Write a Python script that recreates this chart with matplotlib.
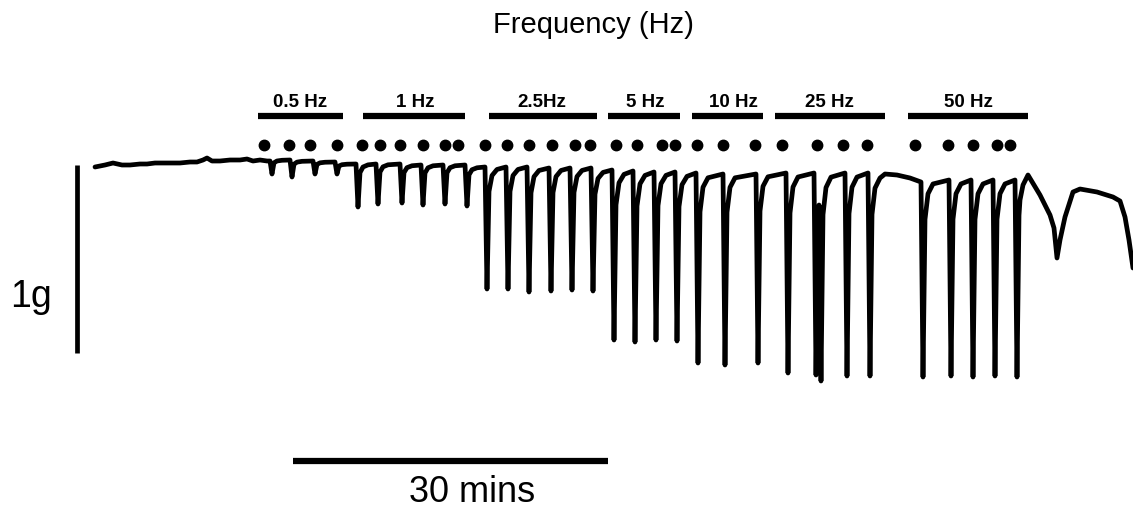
import numpy as np
import matplotlib
matplotlib.use("Agg")
import matplotlib.pyplot as plt

# everything is laid out in figure pixels (x right, y down)
W, H = 1133, 509

# stimulation trains
freq_labels = ["0.5 Hz", "1 Hz", "2.5Hz", "5 Hz", "10 Hz", "25 Hz", "50 Hz"]
label_x = [300, 415, 542, 645, 733, 829, 968]
bar_start = [258, 363, 489, 608, 692, 775, 908]
bar_end = [343, 465, 597, 680, 763, 885, 1028]

# stimulus markers (dots)
stim_x = [264, 289, 310, 337,
          362, 380, 400, 423, 445, 458,
          485, 507, 529, 552, 575, 590,
          616, 637, 662, 675,
          697, 723, 755,
          782, 817, 843, 867,
          915, 948, 973, 997, 1010]

# quiet baseline before the first train
base_x = [95, 105, 113, 122, 130, 140, 147, 155, 163, 172, 180, 190, 197, 203,
          207, 212, 220, 230, 240, 247, 253, 260, 267]
base_y = [167, 165, 163, 165, 165, 164, 164, 163, 163, 163, 163, 162, 162, 160,
          158, 161, 161, 160, 160, 159, 161, 160, 161]

# contractions: time, trough, level just before the twitch
spike_x = [272, 292, 315, 337,
           358, 378, 402, 423, 445, 467,
           487, 508, 529, 551, 572, 593,
           614, 635, 656, 677,
           698, 725, 758,
           788, 816, 821, 847, 870,
           923, 951, 973, 995, 1017]
spike_min = [174, 177, 174, 174,
             207, 204, 203, 205, 204, 206,
             289, 289, 292, 291, 290, 291,
             340, 342, 340, 341,
             363, 365, 363,
             373, 375, 381, 376, 376,
             377, 376, 377, 376, 377]
plateau = [161, 160, 161, 162,
           164, 164, 164, 165, 165, 165,
           167, 167, 167, 168, 168, 168,
           170, 171, 172, 172,
           173, 174, 174,
           173, 173, 205, 173, 173,
           182, 180, 180, 180, 180]

# plateau sag between 25 Hz and 50 Hz trains
sag_x = [885, 897, 910]
sag_y = [174, 175, 178]

# after the last train
post_x = [1020, 1023, 1028, 1040, 1050, 1054, 1057, 1060, 1065, 1073, 1080,
          1097, 1113, 1120, 1125, 1129, 1133]
post_y = [200, 185, 175, 195, 215, 228, 258, 240, 217, 192, 189,
          192, 197, 201, 217, 240, 268]

# recovery shape of each twitch (offset in px, fraction of depth)
rec_dx = [2, 5, 10]
rec_frac = [0.2, 0.07, 0.02]

tx = list(base_x)
ty = list(base_y)
for i, x0 in enumerate(spike_x):
    yp, yb = plateau[i], spike_min[i]
    tx += [x0 - 2, x0]
    ty += [yp, yb]
    if x0 == 870:
        nxt, yr = sag_x[0] + 2, sag_y[0]
    elif i + 1 < len(spike_x):
        nxt, yr = spike_x[i + 1], plateau[i + 1]
    else:
        nxt, yr = post_x[0] + 2, post_y[2]
    d = yb - yr
    for dx, fr in zip(rec_dx, rec_frac):
        if x0 + dx < nxt - 2:
            tx.append(x0 + dx)
            ty.append(yr + fr * d)
    if x0 == 870:
        tx += sag_x
        ty += sag_y
tx += post_x
ty += post_y

fig = plt.figure(figsize=(W / 100, H / 100), dpi=100)
ax = fig.add_axes([0, 0, 1, 1])
ax.set_xlim(0, W)
ax.set_ylim(H, 0)
ax.axis("off")

ax.plot(tx, ty, color="black", lw=3.4, solid_joinstyle="round", solid_capstyle="round")

ax.plot(stim_x, [145] * len(stim_x), "o", color="black", ms=7.5)

for lab, lx, b0, b1 in zip(freq_labels, label_x, bar_start, bar_end):
    ax.plot([b0, b1], [116, 116], color="black", lw=4.5, solid_capstyle="butt")
    ax.text(lx, 107, lab, ha="center", va="baseline", fontsize=13.5,
            fontweight="bold", family="Liberation Sans")

ax.text(493, 33, "Frequency (Hz)", ha="left", va="baseline", fontsize=21,
        family="Liberation Sans")

# scale bars
ax.plot([77, 77], [165, 353], color="black", lw=3.4, solid_capstyle="butt")
ax.text(31, 307, "1g", ha="center", va="baseline", fontsize=27, family="Liberation Sans")
ax.plot([293, 608], [461, 461], color="black", lw=4.5, solid_capstyle="butt")
ax.text(472, 502, "30 mins", ha="center", va="baseline", fontsize=26,
        family="Liberation Sans")

fig.savefig("out.png", dpi=100, facecolor="white")
